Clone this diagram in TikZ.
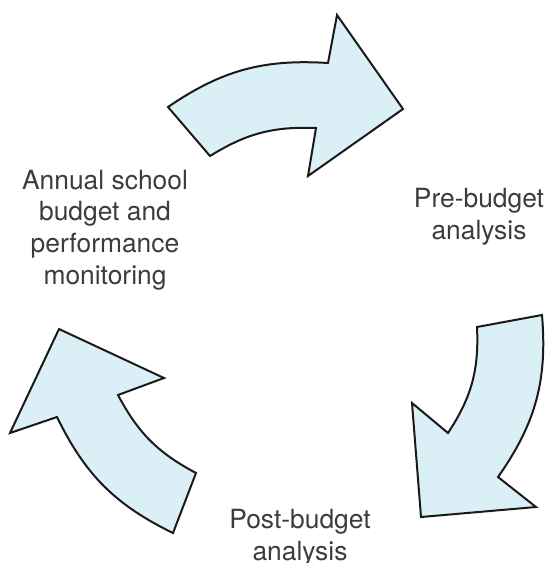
\documentclass[tikz,border=0pt]{standalone}
\usepackage{fontspec}
\setmainfont{TeX Gyre Heros}
\usepackage{tikz}
\usetikzlibrary{positioning}
\definecolor{cyclefill}{HTML}{DAEFF6}
\definecolor{cycleline}{HTML}{1A1A1A}
\definecolor{stagetext}{HTML}{3C3C3C}

\begin{document}
\begin{tikzpicture}[
  x=0.5pt, y=-0.5pt,
  cyclearrow/.style={
    draw=cycleline,
    fill=cyclefill,
    line width=1pt,
    line join=miter},
  stage/.style={
    align=center,
    text=stagetext,
    inner sep=0pt,
    font=\fontsize{13.2}{15.8}\selectfont},
]
  \useasboundingbox (0,0) rectangle (548,563);

  % Top arrow (towards pre-budget analysis)
  \draw[cyclearrow] (168,107) to[bend left=19] (328,63) -- (337,15)
      -- (403,109) -- (308,176) -- (316,128)
      to[bend right=17] (210,156) -- cycle;

  % Right arrow (towards post-budget analysis)
  \draw[cyclearrow] (477,327) -- (542,315) to[bend left=20] (498,477)
      -- (536,507) -- (421,517) -- (412,403) -- (448,433)
      to[bend right=18] cycle;

  % Left arrow (towards annual budget)
  \draw[cyclearrow] (173,533) to[bend left=19] (57,417) -- (10,433)
      -- (59,329) -- (164,378) -- (118,395)
      to[bend right=17] (196,473) -- cycle;

  % Stages
  \node[stage] (annual) at (105,230)
      {Annual school\\budget and\\performance\\monitoring};
  \node[stage] (prebudget) at (479,217) {Pre-budget\\analysis};
  \node[stage] (postbudget) at (300,538) {Post-budget\\analysis};

\end{tikzpicture}
\end{document}
